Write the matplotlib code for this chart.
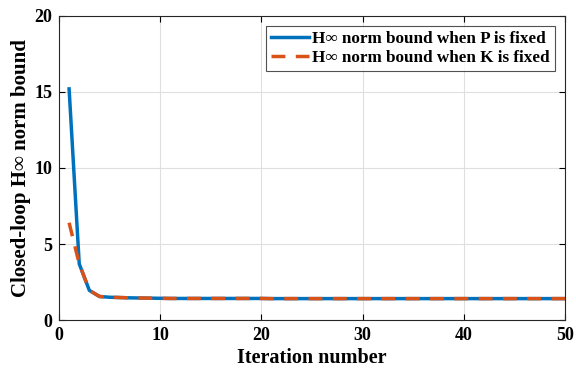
import matplotlib
matplotlib.use("Agg")
import matplotlib.pyplot as plt
import numpy as np

plt.rcParams['font.family'] = ['Liberation Serif', 'DejaVu Serif']
plt.rcParams['font.weight'] = 'bold'
plt.rcParams['mathtext.fontset'] = 'stix'

iters = list(range(1, 51))
p_fixed = [15.2, 3.7, 1.95, 1.55, 1.5, 1.48, 1.46, 1.45, 1.44, 1.43] + [1.42]*10 + [1.41]*30
k_fixed = [6.4, 3.7, 1.95, 1.55, 1.5, 1.48, 1.46, 1.45, 1.44, 1.43] + [1.42]*10 + [1.41]*30

xticks = [0, 10, 20, 30, 40, 50]
yticks = [0, 5, 10, 15, 20]
label_p = 'H∞ norm bound when P is fixed'
label_k = 'H∞ norm bound when K is fixed'
xlabel = 'Iteration number'
ylabel = 'Closed-loop H∞ norm bound'

fig = plt.figure(figsize=(5.76, 3.70), dpi=100)
ax = fig.add_axes([0.1024, 0.135, 0.8786, 0.822])
ax.plot(iters, p_fixed, color='#0072BD', lw=2.5, label=label_p)
ax.plot(iters, k_fixed, color='#D95319', lw=2.5, ls=(0, (4, 3)), label=label_k)
ax.set_xlim(0, 50)
ax.set_ylim(0, 20)
ax.set_xticks(xticks)
ax.set_yticks(yticks)
ax.grid(True, color='#dfdfdf', lw=0.8)
ax.set_axisbelow(True)
ax.tick_params(direction='in', top=True, right=True, labelsize=13, length=4, width=0.8, pad=5)
for s in ax.spines.values():
    s.set_color('#262626')
    s.set_linewidth(0.8)
ax.set_xlabel(xlabel, fontsize=14.5, fontweight='bold', labelpad=3)
ax.set_ylabel(ylabel, fontsize=15, fontweight='bold', labelpad=2)
leg = ax.legend(loc='upper right', fontsize=12.3, frameon=True, fancybox=False,
                edgecolor='#262626', handlelength=2.2, borderpad=0.3, labelspacing=0.15,
                handletextpad=0.2, borderaxespad=0.6)
leg.get_frame().set_linewidth(0.8)
fig.savefig('out.png', dpi=100)
